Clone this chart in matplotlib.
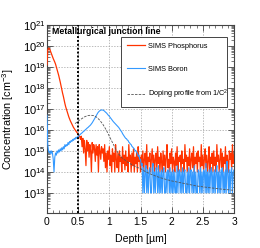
import numpy as np
import matplotlib
matplotlib.use('Agg')
import matplotlib.pyplot as plt
from matplotlib.ticker import LogLocator, MultipleLocator, NullFormatter, FormatStrFormatter

# ---------------- data ----------------
depth = np.linspace(0.0, 3.0, 241)  # SIMS depth grid [um], step 0.0125

# log10 of phosphorus concentration
phos_log = [
    19.1, 19.8, 19.9, 19.88, 19.8, 19.7, 19.6, 19.5, 19.4, 19.32,
    19.23, 19.13, 19.0, 18.88, 18.75, 18.6, 18.45, 18.28, 18.1, 17.92,
    17.75, 17.6, 17.42, 17.25, 17.1, 16.98, 16.85, 16.73, 16.62, 16.52,
    16.43, 16.35, 16.27, 16.2, 16.12, 16.06, 16.0, 15.95, 15.9, 15.85,
    15.8, 15.74, 15.68, 15.55,
    15.7, 15.2, 15.6, 14.9, 15.5, 15.1, 14.3, 15.5, 15.0, 15.4, 14.7, 15.3, 15.0, 14.0,
    15.4, 14.9, 15.3, 15.1, 14.5, 15.3, 14.8, 15.2, 14.0, 15.3, 15.0, 14.6, 15.2, 14.9,
    15.1, 14.5, 15.3, 14.2, 14.9, 14.0, 15.0, 14.6, 15.2, 14.3, 14.8, 14.0, 15.1,
    14.5, 14.9, 14.0, 15.3, 14.6, 14.2, 14.9, 14.0, 15.0, 14.5, 14.7, 14.0, 15.2,
    14.4, 14.8, 14.1, 15.0, 14.3, 14.7, 14.0, 15.3, 14.5, 14.8, 14.0, 14.9, 14.3,
    15.1, 14.0, 14.7, 14.4, 14.9, 14.0, 15.2, 14.5, 14.7, 14.0, 14.8, 14.3, 15.0,
    14.0, 14.6, 14.9, 14.2, 15.3, 14.0, 14.7, 14.5, 14.9, 14.0, 14.6, 15.1, 14.3,
    14.8, 14.0, 14.6, 14.9, 14.1, 15.2, 14.4, 14.7, 14.0, 14.9, 14.5, 14.0, 15.0,
    14.3, 14.8, 14.0, 14.7, 15.3, 14.2, 14.6, 14.0, 14.9, 14.4, 15.1, 14.0, 14.7,
    14.5, 14.0, 14.9, 14.3, 15.2, 14.0, 14.7, 14.5, 14.8, 14.0, 15.0, 14.4, 14.6,
    14.0, 15.3, 14.5, 14.8, 14.0, 14.7, 14.3, 15.1, 14.0, 14.6, 14.9, 14.2, 15.2,
    14.0, 14.7, 14.4, 14.9, 14.0, 15.0, 14.5, 14.7, 14.0, 15.3, 14.3, 14.8, 14.0,
    14.6, 15.1, 14.2, 14.8, 14.0, 14.5, 15.2, 14.0, 14.7, 14.4, 14.9, 14.0, 15.0,
    14.3, 14.7, 14.0, 15.3, 14.5, 14.8, 14.0, 14.6, 15.1, 14.2, 14.9, 14.0, 14.7,
    14.4, 15.2, 14.0, 14.8, 14.5, 14.0, 15.0, 14.6, 14.9, 14.1, 15.3, 14.4, 14.8,
]

# log10 of boron concentration
boron_log = [
    16.7, 15.3, 15.0, 14.9, 15.0, 14.85, 15.0, 14.9, 14.6, 14.0,
    14.7, 14.9, 14.8, 15.0, 14.9, 15.05, 14.95, 15.1, 15.0, 15.15,
    15.05, 15.2, 15.1, 15.3, 15.2, 15.3, 15.25, 15.4, 15.3, 15.45,
    15.4, 15.5, 15.45, 15.55, 15.5, 15.6, 15.55, 15.65, 15.6, 15.68,
    15.65, 15.72, 15.76, 15.8, 15.83, 15.86, 15.9, 15.93, 15.96, 16.0,
    16.03, 16.07, 16.1, 16.13, 16.17, 16.2, 16.24, 16.29, 16.34, 16.4,
    16.46, 16.53, 16.6, 16.67, 16.73, 16.8, 16.85, 16.89, 16.92, 16.94,
    16.95, 16.95, 16.94, 16.92, 16.89, 16.85, 16.82, 16.78, 16.73, 16.69,
    16.65, 16.6, 16.55, 16.5, 16.45, 16.4, 16.36, 16.32, 16.28, 16.24,
    16.2, 16.16, 16.12, 16.06, 16.0, 15.95, 15.9, 15.82, 15.76, 15.7,
    15.65, 15.6, 15.58, 15.52, 15.5, 15.42, 15.38, 15.33, 15.3, 15.22,
    15.18, 15.14, 15.1, 15.0, 15.02, 14.92, 14.9, 14.75, 14.8, 14.6,
    14.6, 14.3, 14.4, 13.0, 14.2,
    13.0, 14.0, 14.3, 13.0, 14.1, 13.0, 14.0, 14.2, 13.0, 13.0, 14.1, 14.4,
    13.0, 14.0, 13.0, 14.2, 14.0, 13.0, 14.3, 13.0, 14.0, 13.0, 14.1, 13.0,
    14.0, 14.2, 13.0, 13.0, 14.0, 13.0, 14.1, 14.0, 13.0, 14.2, 13.0, 14.0,
    13.0, 14.1, 13.0, 14.0, 13.0, 13.0, 14.3, 13.0, 14.0, 14.1, 13.0, 14.0,
    13.0, 14.2, 13.0, 14.0, 14.1, 13.0, 13.0, 14.0, 13.0, 14.2, 13.0, 14.0,
    14.1, 13.0, 14.0, 13.0, 14.3, 13.0, 14.0, 13.0, 13.0, 14.1, 14.0, 13.0,
    14.2, 13.0, 14.0, 13.0, 14.1, 14.0, 13.0, 14.4, 13.0, 14.0, 13.0, 14.1,
    13.0, 14.0, 14.2, 13.0, 14.0, 13.0, 14.1, 13.0, 14.0, 14.3, 13.0, 14.0,
    13.0, 14.1, 13.0, 14.0, 14.2, 13.0, 14.0, 13.0, 14.1, 13.0, 14.5, 14.0,
    13.0, 14.1, 13.0, 14.0, 14.2, 13.0, 14.0, 14.1,
]

# doping profile from 1/C^2
cv_depth = [0.45, 0.5, 0.55, 0.6, 0.65, 0.7, 0.75, 0.8, 0.85, 0.9, 0.95, 1.0,
            1.05, 1.1, 1.15, 1.2, 1.3, 1.4, 1.5, 1.6, 1.7, 1.8, 1.9, 2.0,
            2.2, 2.4, 2.6, 2.8, 3.0]
cv_log = [16.3, 16.42, 16.52, 16.62, 16.68, 16.7, 16.68, 16.6, 16.45, 16.25,
          16.0, 15.7, 15.4, 15.1, 14.85, 14.68, 14.45, 14.28, 14.15, 13.98,
          13.85, 13.74, 13.65, 13.57, 13.45, 13.33, 13.25, 13.18, 13.12]

junction_depth = 0.5
labels = ["SIMS Phosphorus", "SIMS Boron", "Doping profile from 1/C$^{2}$"]
xticks = [0, 0.5, 1, 1.5, 2, 2.5, 3]

# ---------------- plot ----------------
plt.rcParams['font.family'] = ['Liberation Sans', 'DejaVu Sans']
plt.rcParams['mathtext.default'] = 'regular'

fig = plt.figure(figsize=(2.6, 2.48), dpi=100)
ax = fig.add_axes([47/260, 35/248, 187/260, 188/248])

ax.semilogy(depth, 10 ** np.array(phos_log), color='#ff3300', lw=0.9, label=labels[0], zorder=3)
ax.semilogy(depth, 10 ** np.array(boron_log), color='#3399ff', lw=0.8, label=labels[1], zorder=4)
ax.semilogy(cv_depth, 10 ** np.array(cv_log), color='#555555', lw=0.6, ls=(0, (3, 1.5)),
            label=labels[2], zorder=5)
ax.axvline(junction_depth, color='black', lw=1.4, ls=(0, (1, 1)), zorder=6)

ax.set_xlim(0, 3)
ax.set_ylim(1.1e12, 1e21)
ax.set_xticks(xticks)
ax.xaxis.set_major_formatter(FormatStrFormatter('%g'))
ax.xaxis.set_minor_locator(MultipleLocator(0.1))
ax.yaxis.set_major_locator(LogLocator(base=10, numticks=20))
ax.yaxis.set_minor_locator(LogLocator(base=10, subs=np.arange(2, 10), numticks=100))
ax.yaxis.set_minor_formatter(NullFormatter())

ax.grid(True, which='major', color='#a0a0a0', lw=0.5, ls=(0, (2, 2)))
ax.tick_params(which='both', direction='in', top=True, right=True, colors='#444444',
               labelcolor='black')
ax.tick_params(which='major', length=4, width=0.6)
ax.tick_params(which='minor', length=2, width=0.5)
ax.tick_params(axis='x', labelsize=7.4, pad=3)
ax.tick_params(axis='y', labelsize=8, pad=1)
for s in ax.spines.values():
    s.set_color('#444444')
    s.set_linewidth(0.8)

ax.set_xlabel("Depth [µm]", fontsize=7.6, labelpad=5)
ax.set_ylabel("Concentration [cm$^{-3}$]", fontsize=7.8)
ax.yaxis.set_label_coords(-0.165, 0.5)

ax.text(0.027, 0.99, "Metallurgical junction line", transform=ax.transAxes,
        fontsize=6.3, fontweight='bold', va='top', ha='left', zorder=7)

leg = ax.legend(loc='upper left', bbox_to_anchor=(0.396, 0.936, 0.567, 0), mode='expand',
                fontsize=5.3, frameon=True, fancybox=False, edgecolor='#444444',
                framealpha=1, labelspacing=2.1, handlelength=2.4, handletextpad=0.5,
                borderpad=0.8, borderaxespad=0)
leg.get_frame().set_linewidth(0.7)
leg.set_zorder(8)

fig.savefig('out.png', dpi=100)
